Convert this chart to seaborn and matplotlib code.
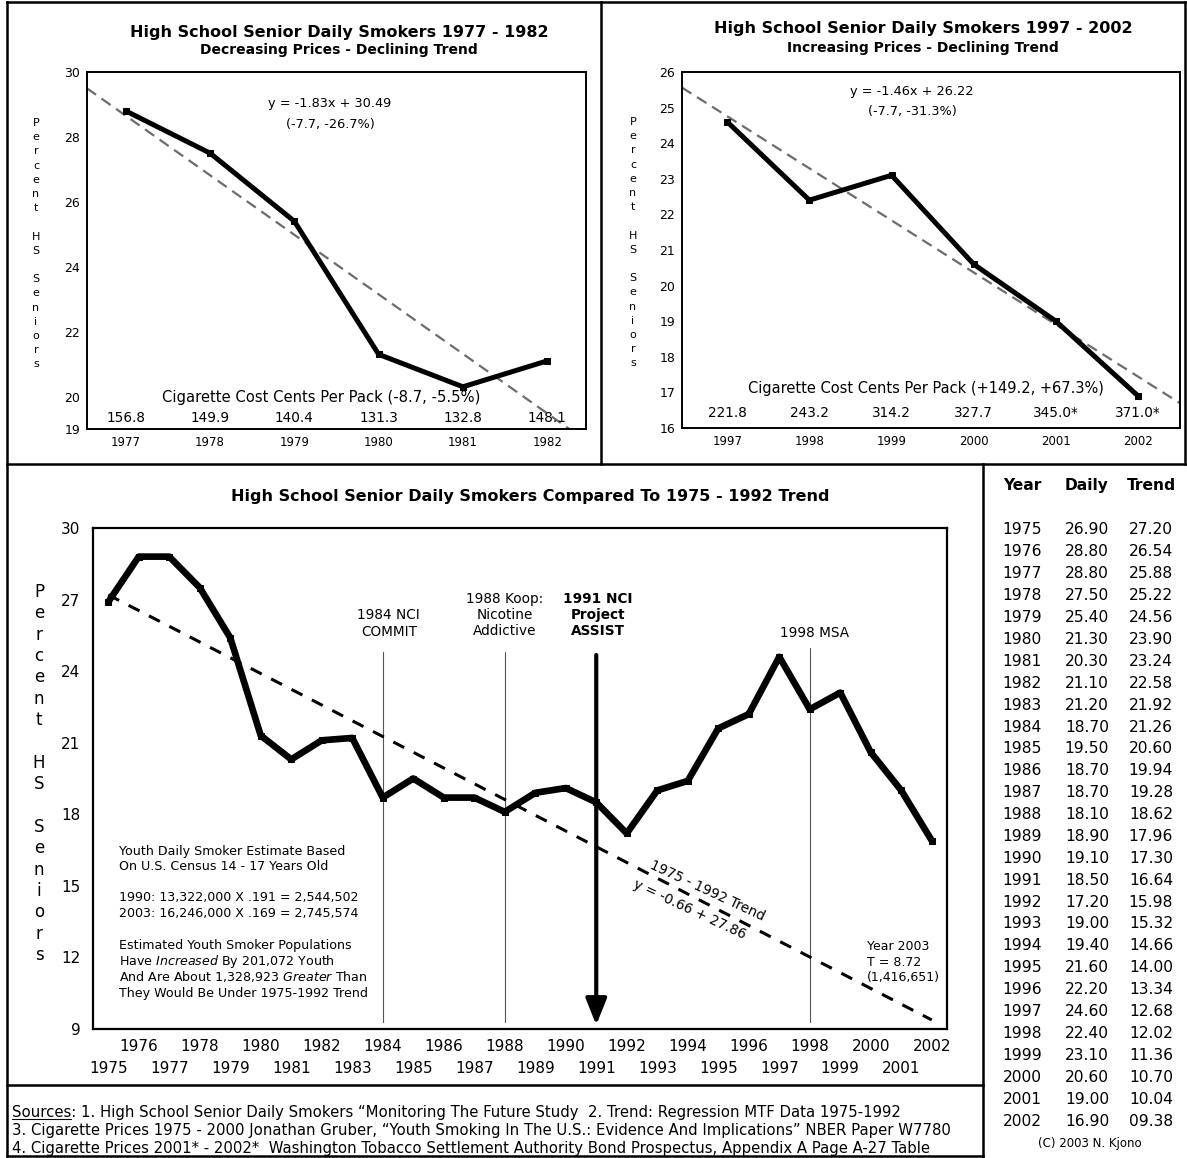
import matplotlib
matplotlib.use('Agg')
import matplotlib.pyplot as plt
import pandas as pd
import seaborn as sns
from matplotlib.lines import Line2D

W, H = 1187, 1158

YEARS = list(range(1975, 2003))
DAILY = [26.90, 28.80, 28.80, 27.50, 25.40, 21.30, 20.30, 21.10, 21.20, 18.70,
         19.50, 18.70, 18.70, 18.10, 18.90, 19.10, 18.50, 17.20, 19.00, 19.40,
         21.60, 22.20, 24.60, 22.40, 23.10, 20.60, 19.00, 16.90]
TREND = [27.20, 26.54, 25.88, 25.22, 24.56, 23.90, 23.24, 22.58, 21.92, 21.26,
         20.60, 19.94, 19.28, 18.62, 17.96, 17.30, 16.64, 15.98, 15.32, 14.66,
         14.00, 13.34, 12.68, 12.02, 11.36, 10.70, 10.04, 9.38]

EARLY_YEARS = [1977, 1978, 1979, 1980, 1981, 1982]
EARLY_PRICE = ['156.8', '149.9', '140.4', '131.3', '132.8', '148.1']
LATE_YEARS = [1997, 1998, 1999, 2000, 2001, 2002]
LATE_PRICE = ['221.8', '243.2', '314.2', '327.7', '345.0*', '371.0*']

EVENT_YEARS = [1984, 1988, 1991, 1998]
EVENT_TEXT = ['1984 NCI\nCOMMIT', '1988 Koop:\nNicotine\nAddictive',
              '1991 NCI\nProject\nASSIST', '1998 MSA']

NOTE_LINES = ['Youth Daily Smoker Estimate Based',
              'On U.S. Census 14 - 17 Years Old',
              '1990: 13,322,000 X .191 = 2,544,502',
              '2003: 16,246,000 X .169 = 2,745,574',
              'Estimated Youth Smoker Populations',
              r'Have $\mathit{Increased}$ By 201,072 Youth',
              r'And Are About 1,328,923 $\mathit{Greater}$ Than',
              'They Would Be Under 1975-1992 Trend']

SOURCES = ['Sources: 1. High School Senior Daily Smokers \u201cMonitoring The Future Study  '
           '2. Trend: Regression MTF Data 1975-1992',
           '3. Cigarette Prices 1975 - 2000 Jonathan Gruber, \u201cYouth Smoking In The U.S.: '
           'Evidence And Implications\u201d NBER Paper W7780',
           '4. Cigarette Prices 2001* - 2002*  Washington Tobacco Settlement Authority Bond '
           'Prospectus, Appendix A Page A-27 Table']

df = pd.DataFrame({'year': YEARS, 'daily': DAILY, 'trend': TREND})
early = df[df.year.isin(EARLY_YEARS)]
late = df[df.year.isin(LATE_YEARS)]

sns.set_theme(style='white')
plt.rcParams['font.family'] = ['DejaVu Sans']
plt.rcParams['text.color'] = 'black'
plt.rcParams['xtick.color'] = 'black'
plt.rcParams['ytick.color'] = 'black'

fig = plt.figure(figsize=(W / 100, H / 100), dpi=100)


# ── helpers (pixel positions -> figure fraction) ─────────────────────────────
def px_rect(l, t, r, b):
    return [l / W, 1 - b / H, (r - l) / W, (b - t) / H]

def ftext(x, y, s, **kw):
    kw.setdefault('ha', 'center')
    kw.setdefault('va', 'center')
    return fig.text(x / W, 1 - y / H, s, **kw)

def fline(x0, y0, x1, y1, lw=1.8):
    fig.add_artist(Line2D([x0 / W, x1 / W], [1 - y0 / H, 1 - y1 / H],
                          color='black', lw=lw, solid_capstyle='projecting'))

def stacked_label(x, y0, step, size):
    chars = list('Percent') + [''] + list('HS') + [''] + list('Seniors')
    for i, ch in enumerate(chars):
        if ch:
            ftext(x, y0 + i * step, ch, fontsize=size)

def frame(ax, lw):
    for s in ax.spines.values():
        s.set_linewidth(lw); s.set_color('black'); s.set_visible(True)

def draw_top(ax, sub, prices, xlim, ylim, yticks, price_y):
    ax.set_xlim(*xlim)
    sns.regplot(data=sub, x='year', y='daily', scatter=False, ci=None, truncate=False,
                ax=ax, line_kws=dict(color='#6c6c6c', lw=1.6, ls=(0, (5, 3)), zorder=1))
    sns.lineplot(data=sub, x='year', y='daily', ax=ax, color='black', lw=3.6,
                 marker='s', markersize=5, markeredgecolor='black', zorder=3)
    for yr, p in zip(sub.year, prices):
        ax.text(yr, price_y, p, transform=ax.get_xaxis_transform(),
                ha='center', va='center', fontsize=9.8)
    ax.set(xlim=xlim, ylim=ylim, xlabel='', ylabel='')
    ax.set_xticks(list(sub.year))
    ax.set_yticks(yticks)
    ax.tick_params(axis='x', length=0, pad=5, labelsize=8.5)
    ax.tick_params(axis='y', length=0, pad=5, labelsize=9)
    frame(ax, 1.4)


# ── Top-left: 1977 - 1982 ────────────────────────────────────────────────────
ax1 = fig.add_axes(px_rect(87, 72, 586, 429))
draw_top(ax1, early, EARLY_PRICE, (1976.54, 1982.46), (19, 30),
         [19, 20, 22, 24, 26, 28, 30], 0.031)
ax1.text(0.487, 0.913, 'y = -1.83x + 30.49', transform=ax1.transAxes, ha='center', va='center', fontsize=9.3)
ax1.text(0.487, 0.852, '(-7.7, -26.7%)', transform=ax1.transAxes, ha='center', va='center', fontsize=9.3)
ax1.text(0.469, 0.087, 'Cigarette Cost Cents Per Pack (-8.7, -5.5%)', transform=ax1.transAxes,
         ha='center', va='center', fontsize=10.6)
ftext(339, 32, 'High School Senior Daily Smokers 1977 - 1982', fontsize=11.5, weight='bold')
ftext(339, 50, 'Decreasing Prices - Declining Trend', fontsize=10, weight='bold')
stacked_label(36, 123, 14.2, 8)

# ── Top-right: 1997 - 2002 ───────────────────────────────────────────────────
ax2 = fig.add_axes(px_rect(682, 72, 1180, 428))
draw_top(ax2, late, LATE_PRICE, (1996.45, 2002.51), (16, 26), list(range(16, 27)), 0.042)
ax2.text(0.462, 0.944, 'y = -1.46x + 26.22', transform=ax2.transAxes, ha='center', va='center', fontsize=9.3)
ax2.text(0.462, 0.888, '(-7.7, -31.3%)', transform=ax2.transAxes, ha='center', va='center', fontsize=9.3)
ax2.text(0.49, 0.11, 'Cigarette Cost Cents Per Pack (+149.2, +67.3%)', transform=ax2.transAxes,
         ha='center', va='center', fontsize=10.5)
ftext(923, 28, 'High School Senior Daily Smokers 1997 - 2002', fontsize=11.5, weight='bold')
ftext(923, 48, 'Increasing Prices - Declining Trend', fontsize=10, weight='bold')
stacked_label(633, 122, 14.2, 8)

# ── Main chart: 1975 - 2002 vs trend ─────────────────────────────────────────
axm = fig.add_axes(px_rect(93, 528, 947, 1029))
sns.lineplot(data=df, x='year', y='trend', ax=axm, color='black', lw=2.2,
             ls=(0, (4, 3.5)), zorder=2)
sns.lineplot(data=df, x='year', y='daily', ax=axm, color='black', lw=4.8,
             marker='s', markersize=4, markeredgecolor='black', zorder=3)
axm.set(xlim=(1974.5, 2002.5), ylim=(9, 30), xlabel='', ylabel='')
axm.set_yticks(range(9, 31, 3))
even = [y for y in YEARS if y % 2 == 0]
odd = [y for y in YEARS if y % 2 == 1]
axm.set_xticks(even, [str(y) for y in even])
axm.set_xticks(odd, [str(y) for y in odd], minor=True)
axm.tick_params(axis='x', which='major', length=0, pad=7, labelsize=11)
axm.tick_params(axis='x', which='minor', length=0, pad=23, labelsize=11)
axm.tick_params(axis='y', length=0, pad=9, labelsize=11)
frame(axm, 1.6)

xt = axm.get_xaxis_transform()
label_y = [623.5, 615, 615, 633]
label_dx = [0.2, 0.0, 0.05, 0.17]
line_top = [652, 652, 655, 648]
for yr, lab, ly, dx, lt in zip(EVENT_YEARS, EVENT_TEXT, label_y, label_dx, line_top):
    top = (1029 - lt) / 501
    bold = yr == 1991
    axm.text(yr + dx, (1029 - ly) / 501, lab, transform=xt, ha='center', va='center',
             fontsize=9.8, linespacing=1.2, weight='bold' if bold else 'normal')
    if bold:
        axm.annotate('', xy=(yr, 0.008), xytext=(yr, top), xycoords=xt, textcoords=xt,
                     arrowprops=dict(arrowstyle='-|>,head_length=1.0,head_width=0.4',
                                     lw=3, color='black', shrinkA=0, shrinkB=0,
                                     mutation_scale=16))
    else:
        axm.plot([yr, yr], [0.014, top], transform=xt, color='#555555', lw=0.8, zorder=1)

ftext(530, 496, 'High School Senior Daily Smokers Compared To 1975 - 1992 Trend',
      fontsize=11.5, weight='bold')
stacked_label(39, 592, 21.35, 12)

note_y = [852, 867, 898, 913, 946, 961, 977, 993]
for ln, y in zip(NOTE_LINES, note_y):
    ftext(119, y, ln, ha='left', fontsize=9.1)

ftext(707, 891, '1975 - 1992 Trend', rotation=-25, rotation_mode='anchor', fontsize=9.8)
ftext(690, 910, 'y = -0.66 + 27.86', rotation=-25, rotation_mode='anchor', fontsize=9.8)
for ln, y in zip(['Year 2003', 'T = 8.72', '(1,416,651)'], [947, 962, 978]):
    ftext(867, y, ln, ha='left', fontsize=9)

# ── Table ────────────────────────────────────────────────────────────────────
col_x = [1022, 1087, 1151]
for x, h in zip(col_x, ['Year', 'Daily', 'Trend']):
    ftext(x, 486, h, fontsize=11.2, weight='bold')
row_step = (1121 - 530) / (len(YEARS) - 1)
for i, (yr, d, t) in enumerate(zip(YEARS, DAILY, TREND)):
    y = 530 + i * row_step
    ftext(col_x[0], y, str(yr), fontsize=11.2)
    ftext(col_x[1], y, f'{d:.2f}', fontsize=11.2)
    ftext(col_x[2], y, f'{t:05.2f}', fontsize=11.2)
ftext(1090, 1143, '(C) 2003 N. Kjono', fontsize=8.5)

# ── Sources ──────────────────────────────────────────────────────────────────
for ln, y in zip(SOURCES, [1113, 1131, 1149]):
    ftext(12, y, ln, ha='left', fontsize=10.7)
word = ftext(12, 1113, 'Sources', ha='left', fontsize=10.7, alpha=0)

# ── Frame lines ──────────────────────────────────────────────────────────────
fline(7, 1.5, 1185, 1.5)
fline(7, 1.5, 7, 1156)
fline(1185, 1.5, 1185, 464)
fline(7, 464, 1185, 464)
fline(601, 1.5, 601, 464)
fline(983, 464, 983, H)
fline(7, 1085, 983, 1085)
fline(7, 1156, 983, 1156)

fig.canvas.draw()
bb = word.get_window_extent(fig.canvas.get_renderer())
fig.add_artist(Line2D([bb.x0 / W, bb.x1 / W], [(bb.y0 + 2) / H] * 2, color='black', lw=0.8))

fig.savefig('out.png', dpi=100)
